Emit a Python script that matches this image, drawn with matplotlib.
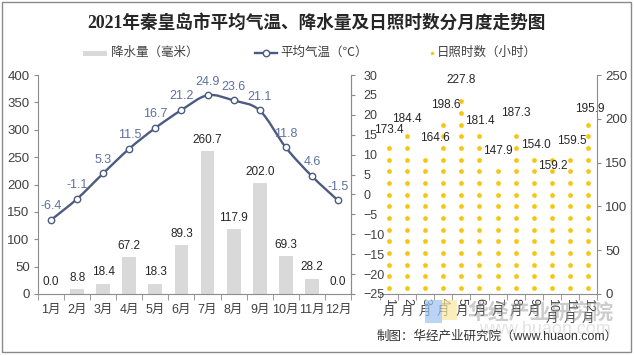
import numpy as np
import matplotlib.pyplot as plt
from matplotlib.path import Path
from matplotlib.patches import PathPatch, Rectangle
from matplotlib.lines import Line2D

plt.rcParams['font.family'] = ['Liberation Sans', 'Noto Sans CJK SC']

# data
months = ['1月', '2月', '3月', '4月', '5月', '6月', '7月', '8月', '9月', '10月', '11月', '12月']
month_nums = ['1', '2', '3', '4', '5', '6', '7', '8', '9', '10', '11', '12']
precip = [0.0, 8.8, 18.4, 67.2, 18.3, 89.3, 260.7, 117.9, 202.0, 69.3, 28.2, 0.0]
temp = [-6.4, -1.1, 5.3, 11.5, 16.7, 21.2, 24.9, 23.6, 21.1, 11.8, 4.6, -1.5]
sunshine = [173.4, 184.4, 164.6, 198.6, 227.8, 181.4, 147.9, 187.3, 154.0, 159.2, 159.5, 195.9]

# label offsets for the sunshine values (points)
sun_offsets = [(0, 8.5), (-0.5, 10), (7, 8.5), (1.5, 10.5), (0, 10.5), (0, 10),
               (0, 10), (0, 12), (1.5, 10), (0.5, -8), (1.5, 9.5), (1.5, 9.5)]

W, H = 634, 356
GRID = '#8c8c8c'
TXT = '#404040'
LINE = '#4b5b82'
TLAB = '#5d70a0'
BAR = '#d9d9d9'


def frac(x0, y0, x1, y1):
    return [x0 / W, (H - y1) / H, (x1 - x0) / W, (y1 - y0) / H]


def smooth_path(x, y):
    pts = np.column_stack([x, y]).astype(float)
    ext = np.vstack([pts[0], pts, pts[-1]])
    verts = [pts[0]]
    codes = [Path.MOVETO]
    for i in range(len(pts) - 1):
        p0, p1, p2, p3 = ext[i], ext[i + 1], ext[i + 2], ext[i + 3]
        verts += [p1 + (p2 - p0) / 6, p2 - (p3 - p1) / 6, p2]
        codes += [Path.CURVE4] * 3
    return Path(verts, codes)


fig = plt.figure(figsize=(W / 100, H / 100), dpi=100)
fig.patch.set_facecolor('white')

x = np.arange(len(months))

# right panel first so the left panel's axis labels sit on top
ax3 = fig.add_axes(frac(380, 75, 597, 294))
ax3.patch.set_visible(False)
ax3.set_xlim(-0.5, 11.5)
ax3.set_ylim(0, 250)
ax3.yaxis.tick_right()
ax3.set_yticks(range(0, 251, 50))
ax3.tick_params(axis='y', length=3, color=GRID, labelsize=9.5, labelcolor=TXT, pad=3)
ax3.set_xticks([])
ax3.set_xticks(np.arange(-0.5, 12, 1), minor=True)
ax3.tick_params(axis='x', which='minor', length=4, color=GRID, direction='out')
for s in ['top', 'left']:
    ax3.spines[s].set_visible(False)
for s in ['right', 'bottom']:
    ax3.spines[s].set_color(GRID)
    ax3.spines[s].set_linewidth(0.8)

unit = 40 / 3
dx, dy = [], []
for i, v in enumerate(sunshine):
    k = 0
    while (k + 0.5) * unit <= v:
        dx.append(i)
        dy.append((k + 0.5) * unit)
        k += 1
ax3.scatter(dx, dy, marker='*', s=26, color='#fcea9e', linewidths=0, zorder=2)
ax3.scatter(dx, dy, marker='o', s=11, color='#f6c510', linewidths=0, zorder=3)
for i, v in enumerate(sunshine):
    ax3.annotate(f'{v:.1f}', (i, v), xytext=sun_offsets[i], textcoords='offset points',
                 ha='center', va='center', fontsize=8.5, color='#262626')

# vertical month labels: digits rotated, 月 upright
for i, n in enumerate(month_nums):
    ax3.annotate(n, (i, 0), xycoords=('data', 'axes fraction'), xytext=(0, -3),
                 textcoords='offset points', rotation=-90, ha='center', va='top',
                 fontsize=9, color=TXT)
    ax3.annotate('月', (i, 0), xycoords=('data', 'axes fraction'),
                 xytext=(0, -3.5 - 5.0 * len(n)), textcoords='offset points',
                 ha='center', va='top', fontsize=9, color=TXT)

# left panel: precipitation + temperature
ax = fig.add_axes(frac(38, 75, 351, 294))
ax.bar(x, precip, width=0.53, color=BAR, zorder=2)
ax.set_xlim(-0.5, 11.5)
ax.set_ylim(0, 400)
ax.set_yticks(range(0, 401, 50))
ax.set_xticks(x)
ax.set_xticklabels(months)
ax.set_xticks(np.arange(-0.5, 12, 1), minor=True)
ax.tick_params(axis='x', which='major', length=0, pad=7, labelsize=9, labelcolor=TXT)
ax.tick_params(axis='x', which='minor', length=4, color=GRID, direction='out')
ax.tick_params(axis='y', length=3, color=GRID, labelsize=9.5, labelcolor=TXT, pad=3)
ax.spines['top'].set_visible(False)
for s in ['left', 'bottom', 'right']:
    ax.spines[s].set_color(GRID)
    ax.spines[s].set_linewidth(0.8)
for i, v in enumerate(precip):
    ax.annotate(f'{v:.1f}', (i, v), xytext=(0, 4), textcoords='offset points',
                ha='center', va='bottom', fontsize=8.5, color='#262626')

ax2 = ax.twinx()
ax2.set_ylim(-25, 30)
ax2.set_yticks(range(-25, 31, 5))
ax2.tick_params(axis='y', length=3, color=GRID, labelsize=9, labelcolor=TXT, pad=6)
ax2.spines['top'].set_visible(False)
ax2.spines['right'].set_color(GRID)
ax2.spines['right'].set_linewidth(0.8)
ax2.spines['left'].set_visible(False)
ax2.spines['bottom'].set_visible(False)
ax2.add_patch(PathPatch(smooth_path(x, temp), fill=False, edgecolor=LINE, lw=1.7, zorder=3))
ax2.plot(x, temp, 'o', mfc='white', mec=LINE, ms=4.6, mew=1.0, zorder=4)
for i, v in enumerate(temp):
    ax2.annotate(f'{v:.1f}', (i, v), xytext=(0, 5.5), textcoords='offset points',
                 ha='center', va='bottom', fontsize=9, color=TLAB)

# overlay for title, legend, footer and frame
ov = fig.add_axes([0, 0, 1, 1])
ov.set_xlim(0, W)
ov.set_ylim(H, 0)
ov.axis('off')
ov.patch.set_visible(False)
ov.add_patch(Rectangle((2, 2), 629, 350, fill=False, edgecolor='#8a8a8a', lw=1))

ov.text(316, 23, '2021年秦皇岛市平均气温、降水量及日照时数分月度走势图',
        family=['Liberation Serif', 'Noto Sans CJK SC'], fontsize=12.7,
        fontweight='bold', color='#262626', ha='center', va='center')

ov.add_patch(Rectangle((83, 50.5), 24, 5, color=BAR, lw=0))
ov.text(111, 53, '降水量（毫米）', fontsize=9, color=TXT, va='center')
ov.add_line(Line2D([255, 277], [53, 53], color=LINE, lw=1.7))
ov.plot([266], [53], 'o', mfc='white', mec=LINE, ms=4.6, mew=1.0)
ov.text(280, 53, '平均气温（℃）', fontsize=9, color=TXT, va='center')
ov.scatter([432], [53], marker='*', s=20, color='#fcea9e', linewidths=0)
ov.scatter([432], [53], marker='o', s=5, color='#f6c510', linewidths=0)
ov.text(437, 53, '日照时数（小时）', fontsize=9, color=TXT, va='center')

# watermark
ov.add_patch(Rectangle((425, 300), 17, 23, color='#9cc3f0', alpha=0.7, lw=0))
ov.add_patch(Rectangle((442, 300), 15, 20, color='#fbe6a0', alpha=0.7, lw=0))
ov.text(540, 312, '华经产业研究院', fontsize=15, fontweight='bold', color='#9a9a9a',
        alpha=0.5, ha='center', va='center')
ov.text(545, 330, 'www.huaon.com', fontsize=13, color='#b0b0b0', alpha=0.35,
        ha='center', va='center')

ov.text(618, 337, '制图：华经产业研究院（www.huaon.com）', fontsize=9, color='#333333',
        ha='right', va='center')

fig.savefig('out.png', dpi=100)
